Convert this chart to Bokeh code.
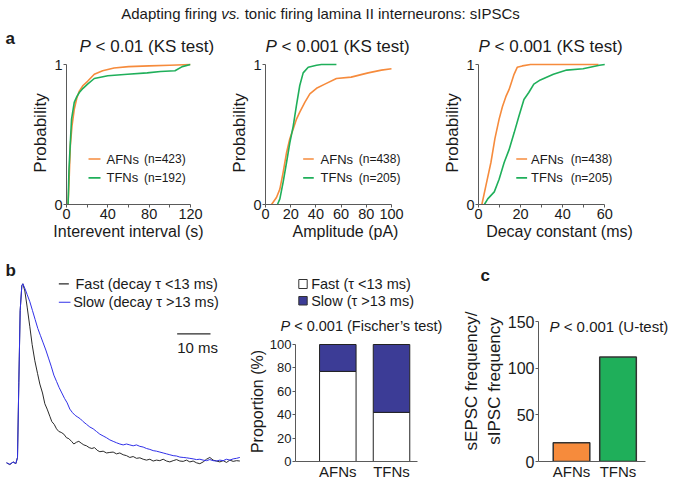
from bokeh.plotting import figure
from bokeh.layouts import column, row
from bokeh.models import Range1d, FixedTicker, Label, ColumnDataSource
from bokeh.embed import file_html
from bokeh.resources import INLINE

# ---------------- data ----------------
title_parts = ["Adapting firing", "vs.", "tonic firing lamina II interneurons: sIPSCs"]
groups = ["AFNs", "TFNs"]
isi_n = [423, 192]
amp_n = [438, 205]
decay_n = [438, 205]
ks_texts = ["< 0.01 (KS test)", "< 0.001 (KS test)", "< 0.001 (KS test)"]

# cumulative distributions (x value, cumulative probability)
isi_afn_x = [1.5, 2.0, 2.7, 3.7, 5.3, 7.5, 10, 12.4, 16, 20.4, 26.9, 35, 46, 60, 80, 100, 120]
isi_afn_p = [0, 0.08, 0.21, 0.42, 0.56, 0.68, 0.76, 0.81, 0.85, 0.88, 0.93, 0.955, 0.975, 0.985, 0.99, 0.995, 1.0]
isi_tfn_x = [1.5, 1.9, 2.4, 3.7, 4.9, 7.5, 10, 12.4, 16, 20.4, 26.9, 40, 59, 78, 91, 105, 112, 120]
isi_tfn_p = [0, 0.1, 0.25, 0.44, 0.61, 0.73, 0.77, 0.80, 0.83, 0.86, 0.90, 0.92, 0.93, 0.94, 0.95, 0.955, 0.985, 1.0]

amp_afn_x = [4.8, 8.7, 11.4, 14, 16.7, 19.3, 22, 24.6, 27.2, 31.2, 35.2, 40.5, 47.1, 56.3, 68, 81.5, 92, 100]
amp_afn_p = [0, 0.05, 0.11, 0.23, 0.37, 0.47, 0.54, 0.61, 0.66, 0.73, 0.79, 0.83, 0.86, 0.90, 0.91, 0.94, 0.96, 0.97]
amp_tfn_x = [9.5, 11.4, 14, 16.7, 19.3, 22, 24.6, 27.2, 29.9, 33.9, 40.5, 44.4, 56.3]
amp_tfn_p = [0, 0.04, 0.16, 0.30, 0.44, 0.56, 0.71, 0.85, 0.94, 0.98, 0.995, 1.0, 1.0]

dec_afn_x = [1.6, 3.6, 5.9, 7.8, 9.8, 11.4, 13.0, 14.5, 15.6, 16.9, 18.4, 20.8, 24.7, 57]
dec_afn_p = [0, 0.14, 0.30, 0.47, 0.61, 0.70, 0.77, 0.82, 0.87, 0.93, 0.98, 0.99, 1.0, 1.0]
dec_tfn_x = [2.8, 4.4, 7.5, 9.8, 12.2, 14.5, 16.9, 19.2, 21.6, 23.9, 26.3, 29.4, 35.6, 41.9, 49.7, 57.5, 60]
dec_tfn_p = [0, 0.04, 0.09, 0.18, 0.30, 0.39, 0.51, 0.63, 0.75, 0.80, 0.86, 0.89, 0.93, 0.96, 0.97, 0.995, 1.0]

# averaged sIPSC traces (time in ms, normalised amplitude)
fast_t = [0, 1, 2, 2.8, 3.3, 3.7, 4.1, 4.6, 4.9, 5.5, 6.2, 7.0, 7.7, 8.5, 9.3, 10, 10.8, 11.5, 12.2, 13,
          13.6, 14.3, 15, 15.7, 16.4, 17.2, 18, 18.7, 19.5, 20.2, 21, 21.7, 22.4, 23.2, 24, 24.8, 25.6,
          26.4, 27.2, 28, 29, 30, 31, 32, 33, 34, 35, 36, 37, 38, 39, 40, 41, 42, 43, 44, 45, 46, 47, 48,
          49, 50, 51, 52, 53, 54, 55, 56, 57, 58, 59, 60, 61, 62, 63, 64, 65, 66, 67, 68, 69, 70]
fast_y = [0.0, -0.01, 0.005, -0.005, 0.03, 0.45, 0.85, 0.99, 1.0, 0.96, 0.87, 0.76, 0.66, 0.57, 0.50,
          0.44, 0.39, 0.33, 0.30, 0.26, 0.23, 0.215, 0.19, 0.175, 0.17, 0.16, 0.14, 0.135, 0.12, 0.105,
          0.115, 0.12, 0.11, 0.10, 0.095, 0.085, 0.08, 0.085, 0.07, 0.062, 0.065, 0.055, 0.058, 0.06,
          0.05, 0.055, 0.045, 0.04, 0.03, 0.035, 0.025, 0.028, 0.02, 0.015, 0.02, 0.01, 0.015, 0.012,
          0.02, 0.01, 0.005, 0.012, 0.018, 0.01, 0.008, 0.015, 0.005, 0.01, 0.0, -0.005, 0.005, 0.02,
          0.03, 0.015, 0.01, 0.005, 0.012, 0.002, 0.015, 0.008, 0.012, 0.01]
slow_t = [0, 1, 2, 2.8, 3.3, 3.7, 4.1, 4.6, 4.9, 5.5, 6.2, 7, 7.8, 8.6, 9.4, 10.2, 11, 11.8, 12.6, 13.4,
          14.2, 15, 15.8, 16.6, 17.4, 18.2, 19, 19.8, 20.6, 21.4, 22.2, 23, 24, 25, 26, 27, 28, 29, 30,
          31, 32, 33, 34, 35, 36, 37, 38, 39, 40, 41, 42, 43, 44, 45, 46, 47, 48, 49, 50, 51, 52, 53, 54,
          55, 56, 57, 58, 59, 60, 61, 62, 63, 64, 65, 66, 67, 68, 69, 70]
slow_y = [0.0, -0.008, 0.004, -0.004, 0.03, 0.45, 0.85, 0.99, 1.0, 0.975, 0.94, 0.90, 0.85, 0.80, 0.75,
          0.71, 0.67, 0.63, 0.585, 0.54, 0.49, 0.455, 0.42, 0.39, 0.36, 0.335, 0.30, 0.28, 0.265, 0.255,
          0.245, 0.23, 0.215, 0.20, 0.19, 0.175, 0.16, 0.15, 0.14, 0.128, 0.12, 0.112, 0.105, 0.10, 0.105,
          0.10, 0.095, 0.10, 0.092, 0.088, 0.08, 0.075, 0.068, 0.065, 0.06, 0.055, 0.05, 0.045, 0.04,
          0.038, 0.032, 0.03, 0.028, 0.025, 0.022, 0.018, 0.02, 0.015, 0.012, 0.018, 0.012, 0.01, 0.015,
          0.012, 0.02, 0.015, 0.022, 0.025, 0.03]
trace_labels = ["Fast (decay \u03c4 <13 ms)", "Slow (decay \u03c4 >13 ms)"]
scalebar_ms = [51.2, 61.2]
scalebar_label = "10 ms"

prop_labels = ["Fast (\u03c4 <13 ms)", "Slow (\u03c4 >13 ms)"]
fast_pct = [77, 42]
slow_pct = [23, 58]
prop_ticks = [0, 20, 40, 60, 80, 100]
fisher_text = "< 0.001 (Fischer\u2019s test)"

ratio_vals = [20, 112]
ratio_ticks = [0, 50, 100, 150]
utest_text = "< 0.001 (U-test)"

# ---------------- style ----------------
SANS = "Liberation Sans"
AX = "#5a5a5a"
TXT = "#1a1a1a"
ORANGE = "#F68B3C"
GREEN = "#1FAF5A"
NAVY = "#3C3C96"
BLUE = "#3030E8"
BLACK = "#2a2a2a"

W = {' ': 278, '(': 333, ')': 333, '<': 584, '>': 584, '=': 584, '.': 278, '/': 278, ':': 278,
     "'": 191, '\u2019': 222, '-': 333, '%': 889,
     'A': 667, 'B': 667, 'C': 722, 'D': 722, 'E': 667, 'F': 611, 'I': 278, 'K': 667, 'N': 722,
     'P': 667, 'S': 667, 'T': 611, 'U': 722,
     'a': 556, 'b': 556, 'c': 500, 'd': 556, 'e': 556, 'f': 278, 'g': 556, 'h': 556, 'i': 222,
     'l': 222, 'm': 833, 'n': 556, 'o': 556, 'p': 556, 'r': 333, 's': 500, 't': 278, 'u': 556,
     'v': 500, 'y': 500}


def tw(s, size):
    return sum(W.get(c, 556) for c in s) * size / 1000.0


def lab(p, x, y, text, size, style="normal", align="left", color=TXT):
    p.add_layout(Label(x=x, y=y, text=text, text_font=SANS, text_font_size=f"{size}px",
                       text_font_style=style, text_align=align, text_baseline="middle",
                       text_color=color))


def base_fig(w, h, xr, yr, bl=0, br=0, bt=0, bb=0, axes=True):
    kw = {}
    if not axes:
        kw = dict(x_axis_type=None, y_axis_type=None)
    p = figure(width=w, height=h, x_range=xr, y_range=yr, output_backend="svg",
               toolbar_location=None, min_border_left=bl, min_border_right=br,
               min_border_top=bt, min_border_bottom=bb, **kw)
    p.outline_line_color = None
    p.grid.visible = False
    p.background_fill_color = "white"
    p.border_fill_color = "white"
    try:
        p.frame_align = False
    except Exception:
        pass
    return p


def style_axis(ax, tick_size, label_size=16):
    ax.axis_line_color = AX
    ax.major_tick_line_color = AX
    ax.minor_tick_line_color = AX
    ax.major_tick_in = 0
    ax.major_tick_out = 3
    ax.minor_tick_in = 0
    ax.minor_tick_out = 3
    ax.major_label_text_font = SANS
    ax.major_label_text_font_size = f"{tick_size}px"
    ax.major_label_text_color = TXT
    ax.major_label_standoff = 1
    ax.axis_label_text_font = SANS
    ax.axis_label_text_font_style = "normal"
    ax.axis_label_text_font_size = f"{label_size}px"
    ax.axis_label_text_color = TXT
    ax.axis_label_standoff = 1


# ---------------- header (page coordinates) ----------------
hdr = base_fig(675, 58, Range1d(0, 675), Range1d(58, 0), axes=False)
TS = 15
full_title = " ".join(title_parts)
tx0 = 320 - tw(full_title, TS) / 2
lab(hdr, tx0, 13, title_parts[0], TS)
lab(hdr, tx0 + tw(title_parts[0] + " ", TS), 13, title_parts[1], TS, style="italic")
lab(hdr, tx0 + tw(title_parts[0] + " " + title_parts[1] + " ", TS), 13, title_parts[2], TS)
lab(hdr, 5, 38, "a", 17, style="bold")
PS = 17
for xp, t in zip([79, 265, 478], ks_texts):
    lab(hdr, xp, 46, "P", PS, style="italic")
    lab(hdr, xp + tw("P ", PS), 46, t, PS)


# ---------------- panel a ----------------
def ecdf_panel(width, bl, br, xmax, xend, major, minor, xlabel, series, n_vals, leg):
    p = base_fig(width, 186, Range1d(0, xend), Range1d(0, 143 / 140), bl, br, 3, 40)
    for (xs, ps), col in zip(series, [ORANGE, GREEN]):
        p.line(xs, ps, line_color=col, line_width=1.6)
    p.xaxis.ticker = FixedTicker(ticks=major, minor_ticks=minor)
    p.yaxis.ticker = FixedTicker(ticks=[0, 1])
    p.xaxis.bounds = (0, xmax)
    p.yaxis.bounds = (0, 1)
    p.xaxis.axis_label = xlabel
    p.yaxis.axis_label = "Probability"
    style_axis(p.xaxis[0], 14.5, 16)
    style_axis(p.yaxis[0], 14.5, 17)
    lx0, lx1, tx, nx = leg
    for name, n, col, yy in zip(groups, n_vals, [ORANGE, GREEN], [0.325, 0.19]):
        p.line([lx0, lx1], [yy, yy], line_color=col, line_width=1.6)
        lab(p, tx, yy, name, 13)
        lab(p, nx, yy, f"(n={n})", 12)
    return p


a1 = ecdf_panel(225, 66, 35, 120, 120, [0, 40, 80, 120], [20, 60, 100], "Interevent interval (s)",
                [(isi_afn_x, isi_afn_p), (isi_tfn_x, isi_tfn_p)], isi_n, (21.3, 32.9, 38.7, 75.0))
a2 = ecdf_panel(215, 40, 15, 100, 127, [0, 20, 40, 60, 80, 100], [], "Amplitude (pA)",
                [(amp_afn_x, amp_afn_p), (amp_tfn_x, amp_tfn_p)], amp_n, (29.9, 38.3, 43.7, 74.0))
a3 = ecdf_panel(235, 37, 35, 60, 77, [0, 20, 40, 60], [10, 30, 50], "Decay constant (ms)",
                [(dec_afn_x, dec_afn_p), (dec_tfn_x, dec_tfn_p)], decay_n, (17.95, 23.1, 25.0, 43.8))

# ---------------- panel b: traces ----------------
bt = base_fig(240, 238, Range1d(-1.8, 70.2), Range1d(-0.110, 1.2196), axes=False)
bt.line(fast_t, fast_y, line_color=BLACK, line_width=1)
bt.line(slow_t, slow_y, line_color=BLUE, line_width=1)
lab(bt, -0.3, 1.072, "b", 17, style="bold")
bt.line([15.7, 18.7], [1.0, 1.0], line_color=BLACK, line_width=1.2)
bt.line([15.7, 19.2], [0.897, 0.897], line_color=BLUE, line_width=1.2)
lab(bt, 20.7, 1.0, trace_labels[0], 14.5)
lab(bt, 20.0, 0.897, trace_labels[1], 14.5)
bt.line(scalebar_ms, [0.7207, 0.7207], line_color=BLACK, line_width=1.2)
lab(bt, scalebar_ms[0], 0.646, scalebar_label, 15)

# ---------------- panel b: proportions ----------------
btx = base_fig(218, 93, Range1d(240, 458), Range1d(337, 244), axes=False)
btx.quad(left=[298.3, 298.3], right=[306.7, 306.7], top=[279, 296], bottom=[288, 304.5],
         fill_color=["white", NAVY], line_color="#333333", line_width=1)
lab(btx, 310.7, 283.5, prop_labels[0], 14.5)
lab(btx, 310.7, 300.5, prop_labels[1], 14.5)
lab(btx, 280, 325, "P", 14.5, style="italic")
lab(btx, 280 + tw("P ", 14.5), 325, fisher_text, 14.5)

xpos = list(range(len(groups)))
bp = base_fig(218, 145, Range1d(-0.788, 1.484), Range1d(0, 120 / 1.17), 55, 41, 4, 21)
src = ColumnDataSource(dict(x=xpos, fast=fast_pct, slow=slow_pct))
bp.vbar_stack(["fast", "slow"], x="x", width=0.68, source=src,
              fill_color=["white", NAVY], line_color="#222222", line_width=1)
bp.yaxis.ticker = FixedTicker(ticks=prop_ticks)
bp.yaxis.bounds = (0, 100)
bp.xaxis.ticker = FixedTicker(ticks=xpos)
bp.xaxis.major_label_overrides = {i: g for i, g in zip(xpos, groups)}
bp.yaxis.axis_label = "Proportion (%)"
style_axis(bp.yaxis[0], 13, 16)
style_axis(bp.xaxis[0], 15)
bp.xaxis.major_tick_out = 0

# ---------------- panel c ----------------
ctx = base_fig(217, 56, Range1d(458, 675), Range1d(300, 244), axes=False)
lab(ctx, 480, 275, "c", 17, style="bold")

cp = base_fig(217, 182, Range1d(-0.71, -0.71 + 137 / 46.5), Range1d(0, 161 / 0.9333), 80, 0, 0, 21)
cp.vbar(x=xpos, top=ratio_vals, width=0.787, fill_color=[ORANGE, GREEN],
        line_color="#333333", line_width=1.5)
cp.yaxis.ticker = FixedTicker(ticks=ratio_ticks)
cp.yaxis.bounds = (0, 150)
cp.xaxis.ticker = FixedTicker(ticks=xpos)
cp.xaxis.bounds = (-0.71, 1.59)
cp.xaxis.major_label_overrides = {i: g for i, g in zip(xpos, groups)}
cp.yaxis.axis_label = "sEPSC frequency/\nsIPSC frequency"
style_axis(cp.yaxis[0], 16, 17)
style_axis(cp.xaxis[0], 15)
cp.xaxis.major_tick_out = 0
lab(cp, -0.473, 144.6, "P", 15, style="italic")
lab(cp, -0.473 + tw("P ", 15) / 46.5, 144.6, utest_text, 15)

layout = column(hdr, row(a1, a2, a3), row(bt, column(btx, bp), column(ctx, cp)))
open("out.html", "w").write(file_html(layout, INLINE))
